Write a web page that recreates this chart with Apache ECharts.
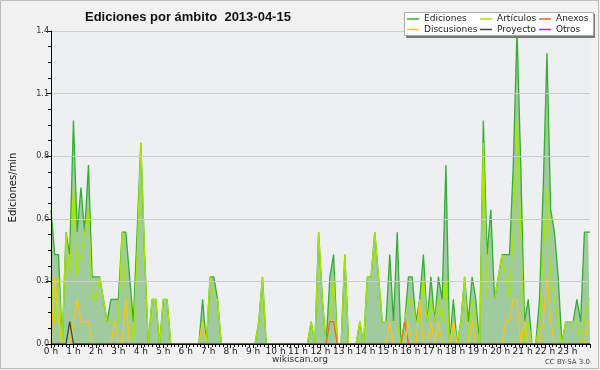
<!DOCTYPE html>
<html><head><meta charset="utf-8">
<script src="https://cdn.jsdelivr.net/npm/echarts@6/dist/echarts.min.js"></script>
<style>html,body{margin:0;padding:0;background:#f1f1f1}#c{width:600px;height:370px}</style>
</head><body><div id="c"></div>
<script>
// Samples every 10 minutes; per hour, the minute of the first sample
const hourTicks = ['0 h','1 h','2 h','3 h','4 h','5 h','6 h','7 h','8 h','9 h','10 h','11 h','12 h','13 h','14 h','15 h','16 h','17 h','18 h','19 h','20 h','21 h','22 h','23 h'];
const hourFirstMinute = [0,0,0,0,0,0,5,5,5,5,5,5,5,5,5,5,5,5,5,5,5,5,5,5];
const yTicks = [0, 0.28, 0.56, 0.84, 1.12, 1.4];
const ediciones = [
 0.6,0.4,0.4,0.0,0.5,0.4,
 1.0,0.5,0.7,0.5,0.8,0.3,
 0.3,0.3,0.2,0.1,0.2,0.2,
 0.2,0.5,0.5,0.3,0.1,0.5,
 0.9,0.4,0.0,0.2,0.2,0.0,
 0.2,0.2,0.0,0,0,0,
 0,0,0,0,0.2,0,
 0.3,0.3,0.2,0,0,0,
 0,0,0,0,0,0,
 0,0.1,0.3,0,0,0,
 0,0,0,0,0,0,
 0,0,0,0.1,0,0.5,
 0.2,0,0.3,0.4,0,0,
 0.4,0,0,0,0.1,0,
 0.3,0.3,0.5,0.3,0.1,0.1,
 0.4,0.1,0.5,0.0,0.1,0.3,
 0.3,0.1,0.2,0.4,0.1,0.3,
 0.1,0.3,0.2,0.8,0.0,0.2,
 0,0.1,0.3,0.1,0.3,0.2,
 0,1.0,0.4,0.6,0.2,0.3,
 0.4,0.4,0.4,0.8,1.4,0.8,
 0.1,0.2,0,0,0.2,0.7,
 1.3,0.6,0.5,0.3,0,0.1,
 0.1,0.1,0.2,0.1,0.5,0.5,
 0.5];
const articulos = [
 0.3,0.1,0.3,0,0.5,0.3,
 0.7,0.3,0.4,0.5,0.6,0.2,
 0.2,0.3,0.2,0.1,0.1,0.1,
 0.1,0.5,0.2,0.2,0.0,0.4,
 0.9,0.4,0,0.2,0.2,0,
 0.2,0.2,0,0,0,0,
 0,0,0,0,0.1,0,
 0.3,0.2,0.2,0,0,0,
 0,0,0,0,0,0,
 0,0.1,0.3,0,0,0,
 0,0,0,0,0,0,
 0,0,0,0.1,0,0.5,
 0.2,0,0.1,0.3,0,0,
 0.4,0,0,0,0.1,0,
 0.3,0.3,0.5,0.3,0.1,0.1,
 0.1,0.1,0.1,0,0.1,0.2,
 0.2,0.1,0.1,0.3,0.1,0.2,
 0.1,0.2,0.1,0.3,0,0.1,
 0,0.1,0.3,0,0.2,0.1,
 0,0.9,0.2,0.2,0.2,0.3,
 0.4,0.3,0.2,0.5,1.0,0.5,
 0,0.1,0,0,0.1,0.4,
 0.7,0.3,0.2,0.1,0,0.1,
 0.1,0.1,0.1,0,0.1,0.2,
 0.2];
const discusiones = [
 0,0.3,0.1,0,0,0,
 0.1,0.2,0.1,0.1,0.1,0,
 0,0,0,0,0,0.1,
 0,0,0.2,0,0,0,
 0,0,0,0,0,0,
 0,0,0,0,0,0,
 0,0,0,0,0.1,0,
 0,0,0,0,0,0,
 0,0,0,0,0,0,
 0,0,0,0,0,0,
 0,0,0,0,0,0,
 0,0,0,0,0,0,
 0,0,0,0,0,0,
 0,0,0,0,0,0,
 0,0,0,0,0,0,
 0.1,0,0,0,0,0.1,
 0,0,0.2,0,0,0.1,
 0,0.1,0,0,0,0.1,
 0,0,0,0,0.1,0,
 0,0,0,0,0,0,
 0,0.1,0.1,0.2,0.2,0,
 0.1,0,0,0,0,0.1,
 0.3,0.1,0,0,0,0,
 0,0,0,0,0,0.1,
 0.1];
const anexos = new Array(145).fill(0);
anexos[74] = 0.1; anexos[75] = 0.1; anexos[94] = 0.1;
const proyecto = new Array(145).fill(0);
proyecto[5] = 0.1;
const otros = new Array(145).fill(0);

const sampleHours = ediciones.map((_, i) =>
  i === 144 ? 24 : (Math.floor(i / 6) * 60 + hourFirstMinute[Math.floor(i / 6)] + (i % 6) * 10) / 60);
const toXY = arr => arr.map((v, i) => [sampleHours[i], v]);

const chart = echarts.init(document.getElementById('c'), null, {renderer: 'canvas'});
const F = 'DejaVu Sans';
function lineSeries(name, data, color, z, extra) {
  return Object.assign({
    name, type: 'line', data: toXY(data), symbol: 'none', z,
    lineStyle: {color, width: 1.3}, itemStyle: {color}, animation: false
  }, extra || {});
}
const legBase = {orient: 'vertical', top: 14, padding: 0, itemGap: 0.5, itemWidth: 12, itemHeight: 1.5,
  icon: 'rect', textStyle: {fontFamily: F, fontSize: 9, color: '#222', lineHeight: 10}, selectedMode: false};
chart.setOption({
  backgroundColor: '#f1f1f1',
  animation: false,
  title: {text: 'Ediciones por ámbito  2013-04-15', left: 80, top: 6,
    textStyle: {fontFamily: 'Liberation Sans', fontWeight: 'bold', fontSize: 13, color: '#111'}},
  grid: {left: 46, right: 10, top: 31, bottom: 26, show: true, backgroundColor: '#eeeff1', borderWidth: 0},
  graphic: [
    {type: 'rect', shape: {x: 0.5, y: 0.5, width: 598, height: 368}, style: {fill: null, stroke: '#bbbbbb', lineWidth: 1}, z: -10},
    {type: 'rect', shape: {x: 406, y: 14, width: 189, height: 24}, style: {fill: '#777'}, z: 10},
    {type: 'rect', shape: {x: 404.5, y: 12.5, width: 189, height: 23}, style: {fill: '#ffffff', stroke: '#aaaaaa', lineWidth: 1}, z: 11},
    {type: 'text', left: 'center', top: 355, style: {text: 'wikiscan.org', font: '9px DejaVu Sans', fill: '#333'}},
    {type: 'text', right: 10, top: 359, style: {text: 'CC BY-SA 3.0', font: '7px DejaVu Sans', fill: '#444'}}
  ],
  legend: [
    Object.assign({left: 407, data: ['Ediciones', 'Discusiones'], z: 20}, legBase),
    Object.assign({left: 480, data: ['Artículos', 'Proyecto'], z: 20}, legBase),
    Object.assign({left: 539, data: ['Anexos', 'Otros'], z: 20}, legBase)
  ],
  xAxis: {
    type: 'value', min: 0, max: 24, interval: 1, z: 5,
    axisLine: {lineStyle: {color: '#000', width: 1}},
    axisTick: {show: true, length: 4, lineStyle: {color: '#000'}},
    minorTick: {show: true, splitNumber: 6, length: 3, lineStyle: {color: '#000'}},
    splitLine: {show: false},
    axisLabel: {fontFamily: F, fontSize: 9, color: '#222', margin: 3,
      formatter: v => (v < 24 ? hourTicks[Math.round(v)] : '')}
  },
  yAxis: {
    type: 'value', min: 0, max: 1.4, interval: 0.28, z: 5,
    name: 'Ediciones/min', nameLocation: 'middle', nameGap: 33, nameRotate: 90,
    nameTextStyle: {fontFamily: F, fontSize: 10, color: '#111'},
    axisLine: {show: true, lineStyle: {color: '#000', width: 1}},
    axisTick: {show: true, length: 5, lineStyle: {color: '#000'}},
    minorTick: {show: true, splitNumber: 4, length: 3, lineStyle: {color: '#000'}},
    splitLine: {show: true, lineStyle: {color: '#cccccc', width: 1}},
    axisLabel: {fontFamily: F, fontSize: 8, color: '#333', margin: 2,
      formatter: v => yTicks.some(t => Math.abs(t - v) < 1e-6) ? v.toFixed(1) : ''}
  },
  series: [
    lineSeries('Ediciones', ediciones, '#35ad35', 2, {areaStyle: {color: '#9fcb9f', opacity: 1}}),
    lineSeries('Artículos', articulos, '#a6e600', 3),
    lineSeries('Anexos', anexos, '#f26522', 4),
    lineSeries('Discusiones', discusiones, '#f5c518', 4),
    lineSeries('Proyecto', proyecto, '#444444', 4),
    lineSeries('Otros', otros, '#9933ee', 1)
  ]
});
</script></body></html>
